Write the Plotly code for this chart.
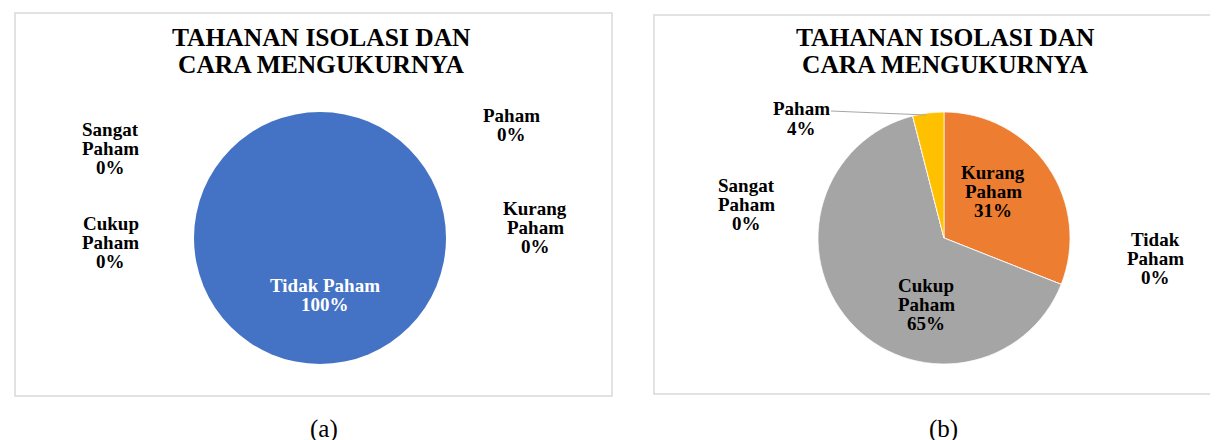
import plotly.graph_objects as go

# ---- data ----
title_lines = ["TAHANAN ISOLASI DAN", "CARA MENGUKURNYA"]

cats_a = ["Tidak Paham", "Paham", "Kurang Paham", "Cukup Paham", "Sangat Paham"]
vals_a = [100, 0, 0, 0, 0]
colors_a = ["#4472C4", "#FFC000", "#ED7D31", "#A5A5A5", "#5B9BD5"]

cats_b = ["Kurang Paham", "Tidak Paham", "Cukup Paham", "Sangat Paham", "Paham"]
vals_b = [31, 0, 65, 0, 4]
colors_b = ["#ED7D31", "#4472C4", "#A5A5A5", "#5B9BD5", "#FFC000"]

panel_labels = ["(a)", "(b)"]

W, H = 1218, 440
def px(x):
    return x / W
def py(y):
    return 1 - y / H

# label layout (pixels): x centre, y of first line, colour, split name over lines?
pos_a = {
    "Tidak Paham": (317, 277, "white", False),
    "Paham": (503, 107, "black", True),
    "Kurang Paham": (527, 200, "black", True),
    "Cukup Paham": (103, 215, "black", True),
    "Sangat Paham": (102, 121, "black", True),
}
pos_b = {
    "Kurang Paham": (985, 164, "black", True),
    "Tidak Paham": (1147, 231, "black", True),
    "Cukup Paham": (918, 277, "black", True),
    "Sangat Paham": (738, 177, "black", True),
    "Paham": (793, 101, "black", True),
}

FONT = "Liberation Serif"
LABEL_SIZE = 19
LINE_GAP = 19.3

fig = go.Figure()

def add_pie(cats, vals, cols, cx, cy, r, lw):
    fig.add_trace(go.Pie(
        labels=cats, values=vals, sort=False, direction="clockwise", rotation=0,
        marker=dict(colors=cols, line=dict(color="white", width=lw)),
        textinfo="none", hoverinfo="label+percent", showlegend=False,
        domain=dict(x=[px(cx - r), px(cx + r)], y=[py(cy + r), py(cy - r)]),
    ))

add_pie(cats_a, vals_a, colors_a, 312, 230, 126, 0)
add_pie(cats_b, vals_b, colors_b, 936, 230, 126, 0.7)

annotations = []
def text_line(x, y, txt, size, color, bold=True):
    annotations.append(dict(
        x=px(x), y=py(y), xref="paper", yref="paper",
        text=f"<b>{txt}</b>" if bold else txt, showarrow=False,
        font=dict(family=FONT, size=size, color=color),
        xanchor="center", yanchor="middle",
    ))

def add_labels(cats, vals, pos):
    total = sum(vals)
    for c, v in zip(cats, vals):
        x, y, col, split = pos[c]
        lines = (c.split(" ") if split else [c]) + [f"{round(100 * v / total)}%"]
        for i, ln in enumerate(lines):
            text_line(x, y + i * LINE_GAP, ln, LABEL_SIZE, col)

add_labels(cats_a, vals_a, pos_a)
add_labels(cats_b, vals_b, pos_b)

# titles
for cx in (313, 937):
    for i, ln in enumerate(title_lines):
        text_line(cx, 29 + i * 27.5, ln, 25.5, "black")

# panel labels
for lbl, cx in zip(panel_labels, (316, 935)):
    text_line(cx, 421, lbl, 25, "black", bold=False)

shapes = [
    dict(type="rect", xref="paper", yref="paper", x0=px(7), x1=px(604), y0=py(388), y1=py(5),
         line=dict(color="#D9D9D9", width=1.5)),
    dict(type="rect", xref="paper", yref="paper", x0=px(646), x1=px(1216), y0=py(386), y1=py(7),
         line=dict(color="#D9D9D9", width=1.5)),
    # leader line for "Paham" in chart b
    dict(type="line", xref="paper", yref="paper", x0=px(823), y0=py(103), x1=px(918), y1=py(107),
         line=dict(color="#A6A6A6", width=1)),
]

fig.update_layout(
    width=W, height=H, margin=dict(l=0, r=0, t=0, b=0),
    paper_bgcolor="white", plot_bgcolor="white",
    annotations=annotations, shapes=shapes,
)

fig.write_html("out.html")
